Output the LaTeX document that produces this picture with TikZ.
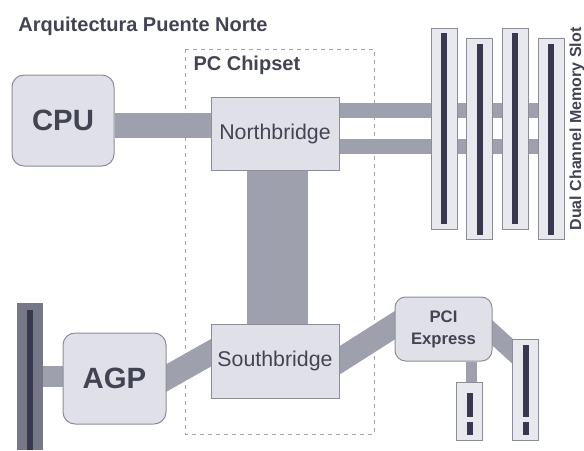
\documentclass[tikz,border=0pt]{standalone}
\usepackage{fontspec}
\setmainfont{Liberation Sans}
\usetikzlibrary{calc,backgrounds}
\definecolor{busgray}{RGB}{158,160,173}
\definecolor{boxfill}{RGB}{224,225,232}
\definecolor{boxline}{RGB}{140,141,152}
\definecolor{slotfill}{RGB}{232,233,238}
\definecolor{pindark}{RGB}{56,57,78}
\definecolor{agpgray}{RGB}{118,120,136}
\definecolor{txtdark}{RGB}{66,68,84}
\tikzset{every picture/.style={line width=0.75pt}}
\tikzset{
chip/.style={rectangle, draw=boxline, fill=boxfill, text=txtdark, inner sep=0pt,
  minimum width=96pt, font=\fontsize{16}{18}\selectfont},
unit/.style={rectangle, rounded corners=9pt, draw=boxline, fill=boxfill, text=txtdark,
  inner sep=0pt, font=\bfseries\fontsize{22}{24}\selectfont},
slot/.style={rectangle, draw=boxline, fill=slotfill, inner sep=0pt, minimum width=19.5pt},
pin/.style={rectangle, fill=pindark, inner sep=0pt, minimum width=4.5pt},
bus/.style={draw=busgray},
label/.style={text=txtdark, inner sep=0pt, font=\bfseries\fontsize{15}{17}\selectfont}}

\begin{document}
\begin{tikzpicture}[x=0.75pt,y=0.75pt,yscale=-1,xscale=1]
\useasboundingbox (0,0) rectangle (584,450);

%Shape: Rectangle [PC Chipset]
\draw [color=boxline!80, line width=0.6pt, dashed] (185,49) rectangle (374,434) ;

% Text Node
\node [label, anchor=west] (title) at (18,26) {Arquitectura Puente Norte};
% Text Node
\node [label, anchor=west] (chipset) at (193,65) {PC Chipset};

%Boxes
\node [unit, minimum width=76.5pt, minimum height=68.25pt] (cpu) at (63,120.5) {CPU};
\node [chip, minimum height=54.75pt] (nb) at (275,133.5) {Northbridge};
\node [chip, minimum height=55.5pt] (sb) at (275,361) {Southbridge};
\node [unit, minimum width=77.25pt, minimum height=68.25pt] (agp) at (114.5,378.5) {AGP};
\node [unit, rounded corners=8pt, minimum width=72.75pt, minimum height=48pt, align=center,
  font=\bfseries\fontsize{12.5}{16.5}\selectfont] (pci) at (443.5,329) {PCI\\Express};

%Memory slots
\foreach \n/\x/\y in {1/444/128.5, 2/479.5/139, 3/515/128.5, 4/551/139}{
  \node [slot, minimum height=150.75pt] (m\n) at (\x,\y) {};
  \node [pin, minimum height=143.25pt] (mp\n) at (m\n) {};
}
% Text Node
\node [label, rotate=90, anchor=base, font=\bfseries\fontsize{12}{14}\selectfont] (dual) at (581,129) {Dual Channel Memory Slot};

%AGP slot
\node [rectangle, fill=agpgray, inner sep=0pt, minimum width=19.5pt, minimum height=110.25pt] (agpslot) at (30,376.5) {};
\node [pin, minimum height=105pt] (agppin) at (30,380) {};

%PCI Express slots
\node [slot, minimum height=43.5pt] (ss) at (469,411) {};
\node [pin, minimum height=18pt] (ssp1) at (469.5,405) {};
\node [pin, minimum height=9.75pt] (ssp2) at (469.5,428.5) {};
\node [slot, minimum height=75.75pt] (ts) at (525.5,389.5) {};
\node [pin, minimum height=54pt] (tsp1) at (525.5,381) {};
\node [pin, minimum height=9.75pt] (tsp2) at (525.5,428.5) {};

\begin{pgfonlayer}{background}
%Buses
\draw [bus, line width=18.75pt] (cpu.east |- 0,125.5) -- (nb.west |- 0,125.5) ;
\draw [bus, line width=45.75pt] ([xshift=2pt]nb.center) -- ([xshift=2pt]sb.center) ;
\draw [bus, line width=11.25pt] (nb.east |- 0,110) -- (m4.center |- 0,110) ;
\draw [bus, line width=11.25pt] (nb.east |- 0,146.5) -- (m4.center |- 0,146.5) ;
\draw [bus, line width=15.75pt] (agpslot.center) -- (agp.center |- agpslot.center) ;
\draw [bus, line width=18pt] ($(agp.east)+(-10,5)$) -- ($(sb.west)+(10,-13.6)$) ;
\draw [bus, line width=18pt] ($(sb.east)+(-8,4.5)$) -- ($(pci.west)+(10,-10)$) ;
\draw [bus, line width=8.25pt] (pci.south -| 471.5,0) -- (ss.north -| 471.5,0) ;
\draw [bus, line width=14pt] ($(pci.east)+(-12,-7)$) -- ($(ts.north)+(-4,21)$) ;
\end{pgfonlayer}

\end{tikzpicture}
\end{document}
